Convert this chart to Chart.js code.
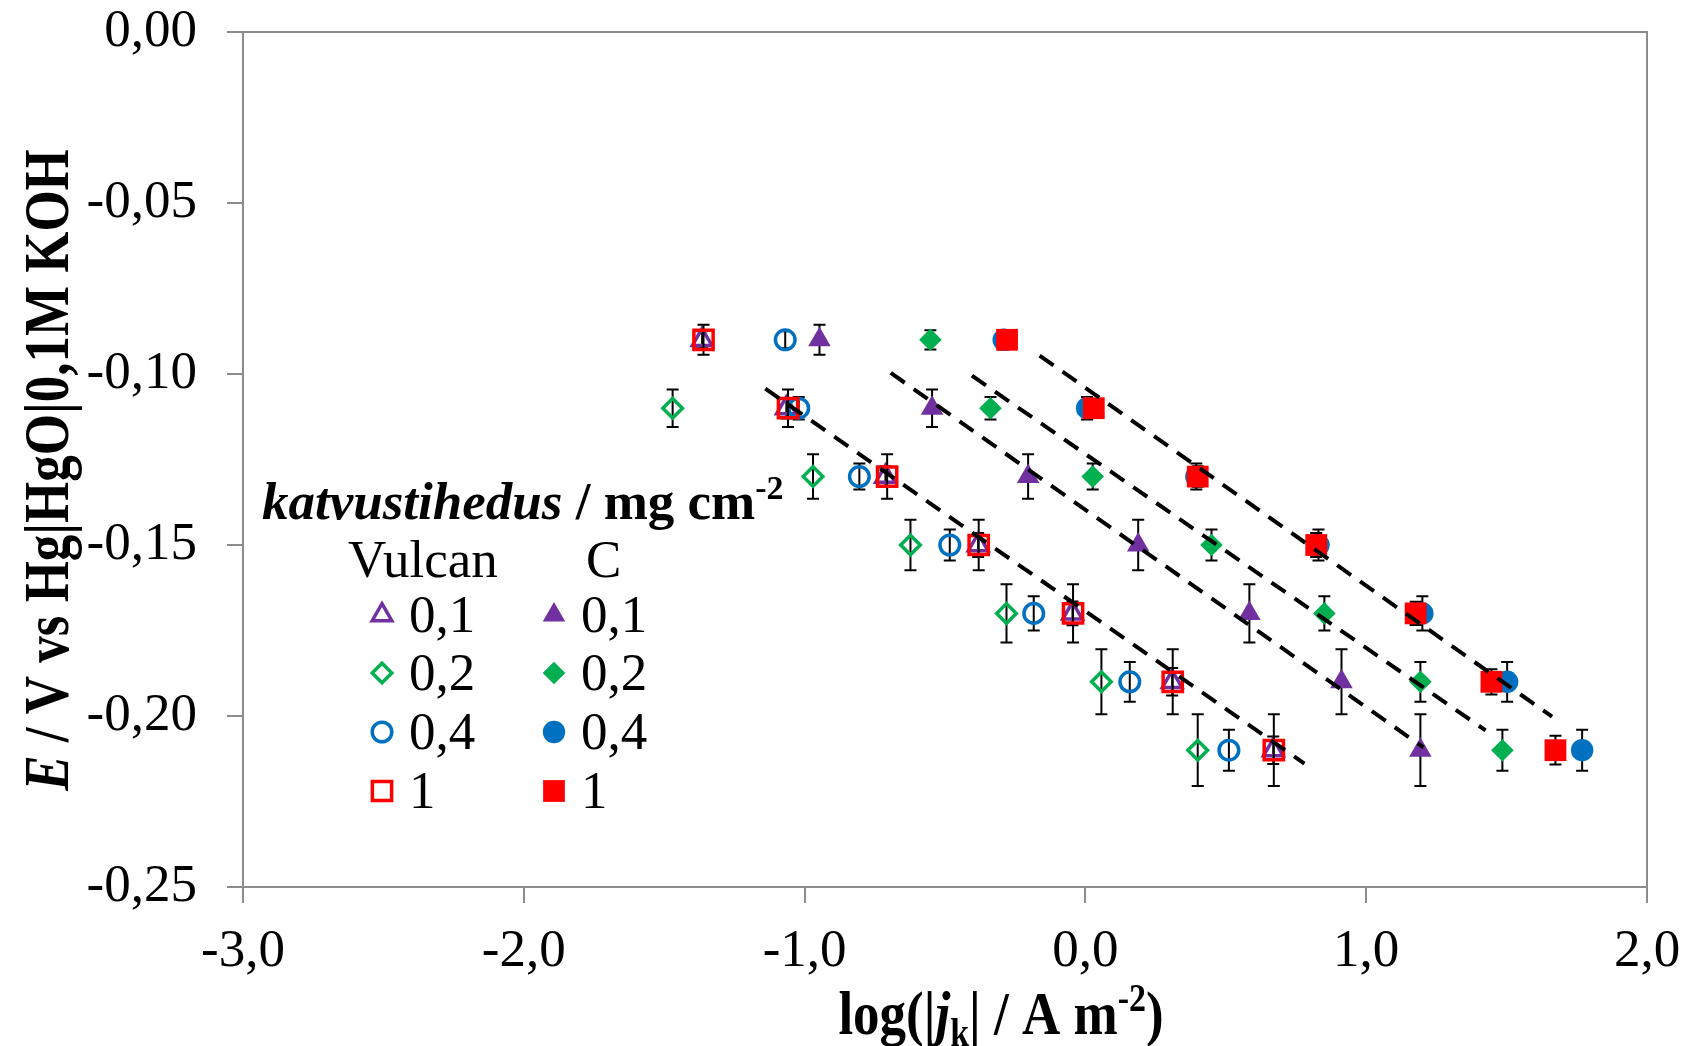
<!DOCTYPE html>
<html>
<head>
<meta charset="utf-8">
<script src="https://cdn.jsdelivr.net/npm/chart.js@4"></script>
<style>
  html, body { margin: 0; padding: 0; background: #fff; }
  #wrap { width: 1693px; height: 1046px; }
</style>
</head>
<body>
<div id="wrap"><canvas id="tafel" width="1693" height="1046"></canvas></div>
<script>
// potential steps, V vs Hg|HgO|0,1M KOH
const potE = [-0.09, -0.11, -0.13, -0.15, -0.17, -0.19, -0.21];
const potE6 = [-0.11, -0.13, -0.15, -0.17, -0.19, -0.21];

// log(|jk| / A m-2) for each catalyst loading
const vulcan01Log = [-1.365, -1.065, -0.712, -0.382, -0.046, 0.309, 0.669];
const vulcan02Log = [-1.47, -0.97, -0.623, -0.281, 0.057, 0.40];
const vulcan04Log = [-1.069, -1.021, -0.805, -0.483, -0.184, 0.158, 0.511];
const vulcan1Log = [-1.36, -1.059, -0.706, -0.380, -0.044, 0.311, 0.671];
const c01Log = [-0.947, -0.546, -0.204, 0.188, 0.584, 0.912, 1.193];
const c02Log = [-0.552, -0.338, 0.026, 0.449, 0.851, 1.193, 1.485];
const c04Log = [-0.291, 0.006, 0.395, 0.83, 1.20, 1.502, 1.769];
const c1Log = [-0.279, 0.030, 0.400, 0.822, 1.176, 1.446, 1.674];

// error bar half-widths, V
const vulcan01Err = [0.0025, 0.003, 0.003, 0.0035, 0.0035, 0.004, 0.004];
const vulcan02Err = [0.0055, 0.0065, 0.0074, 0.0085, 0.0095, 0.0105];
const vulcan04Err = [0.0025, 0.0033, 0.0038, 0.0045, 0.005, 0.0058, 0.006];
const vulcan1Err = [0.0044, 0.0055, 0.0065, 0.0074, 0.0085, 0.0095, 0.0105];
const c01Err = [0.0044, 0.0055, 0.0065, 0.0074, 0.0085, 0.0095, 0.0105];
const c02Err = [0.0028, 0.0033, 0.0038, 0.0045, 0.005, 0.0058, 0.006];
const c04Err = [0.0028, 0.0033, 0.0038, 0.0045, 0.005, 0.0058, 0.006];
const c1Err = [0.002, 0.0025, 0.003, 0.0035, 0.0034, 0.0037, 0.0042];

// Tafel fit lines (end points)
const fitVulcanX = [-1.14, 0.78], fitVulcanE = [-0.1043, -0.2139];
const fitC01X = [-0.693, 1.204], fitC01E = [-0.0997, -0.2092];
const fitC02X = [-0.404, 1.425], fitC02E = [-0.1005, -0.2042];
const fitC1X = [-0.163, 1.662], fitC1E = [-0.0946, -0.2002];

const PURPLE = "#7030A0", GREEN = "#00B050", BLUE = "#0070C0", RED = "#FF0000";
const AXIS = "#8c8c8c";
const SERIF = "'Liberation Serif', 'Times New Roman', serif";

function pts(xs, ys) {
    return xs.map((v, i) => ({ x: v, y: ys[i] }));
}

const markers = {
    tri: { style: "triangle", open: 11.3, filled: 13 },
    dia: { style: "rectRot", open: 9.8, filled: 11.3 },
    circ: { style: "circle", open: 9.8, filled: 11.2 },
    sq: { style: "rect", open: 13.6, filled: 15.4 }
};
const OPEN_W = 3.5;

function series(label, xs, ys, errs, color, m, filled, order) {
    return {
        label: label,
        data: pts(xs, ys),
        errors: errs,
        order: order,
        pointStyle: m.style,
        pointRadius: filled ? m.filled : m.open,
        pointBorderWidth: filled ? 0 : OPEN_W,
        pointBorderColor: color,
        pointBackgroundColor: filled ? color : "rgba(0,0,0,0)",
        showLine: false
    };
}

function fitLine(xs, ys) {
    return {
        data: pts(xs, ys),
        order: 0,
        showLine: true,
        borderColor: "#000",
        borderWidth: 4,
        borderDash: [17, 11],
        pointRadius: 0,
        fill: false
    };
}

const errorBars = {
    id: "errorBars",
    beforeDatasetDraw(chart, args) {
        const ds = chart.data.datasets[args.index];
        if (!ds.errors) return;
        const ctx = chart.ctx, xs = chart.scales.x, ys = chart.scales.y;
        ctx.save();
        ctx.strokeStyle = "#000";
        ctx.lineWidth = 2;
        ds.data.forEach((p, i) => {
            const px = xs.getPixelForValue(p.x);
            const top = ys.getPixelForValue(p.y + ds.errors[i]);
            const bot = ys.getPixelForValue(p.y - ds.errors[i]);
            ctx.beginPath();
            ctx.moveTo(px, top); ctx.lineTo(px, bot);
            ctx.moveTo(px - 6, top); ctx.lineTo(px + 6, top);
            ctx.moveTo(px - 6, bot); ctx.lineTo(px + 6, bot);
            ctx.stroke();
        });
        ctx.restore();
    }
};

const frame = {
    id: "frame",
    beforeDatasetsDraw(chart) {
        const { ctx, chartArea: a } = chart;
        ctx.save();
        ctx.strokeStyle = AXIS;
        ctx.lineWidth = 2;
        ctx.strokeRect(a.left, a.top, a.right - a.left, a.bottom - a.top);
        ctx.restore();
    }
};

// draw a run of differently styled text pieces
function rich(ctx, parts, x, y, align) {
    let w = 0;
    parts.forEach(p => { ctx.font = p.font; p.w = ctx.measureText(p.t).width; w += p.w; });
    let cx = align === "center" ? x - w / 2 : x;
    parts.forEach(p => {
        ctx.font = p.font;
        ctx.fillText(p.t, cx, y + (p.dy || 0));
        cx += p.w;
    });
}

const texts = {
    id: "texts",
    afterDraw(chart) {
        const ctx = chart.ctx;
        const B = "bold 53px " + SERIF, BI = "italic bold 53px " + SERIF, R = "53px " + SERIF;
        const SMALL = "bold 34px " + SERIF;
        ctx.save();
        ctx.fillStyle = "#000";
        ctx.textBaseline = "alphabetic";
        ctx.textAlign = "left";

        // y axis title
        ctx.save();
        ctx.translate(68, 470);
        ctx.rotate(-Math.PI / 2);
        ctx.scale(1, 1.2);
        rich(ctx, [
            { t: "E", font: BI },
            { t: " / V vs Hg|HgO|0,1M KOH", font: B }
        ], 0, 0, "center");
        ctx.restore();

        // x axis title
        ctx.save();
        ctx.translate(1001, 1034);
        ctx.scale(1, 1.15);
        rich(ctx, [
            { t: "log(|", font: B },
            { t: "j", font: BI },
            { t: "k", font: SMALL, dy: 10 },
            { t: "| / A m", font: B },
            { t: "-2", font: SMALL, dy: -20 },
            { t: ")", font: B }
        ], 0, 0, "center");
        ctx.restore();

        // legend
        rich(ctx, [
            { t: "katvustihedus", font: BI },
            { t: " / mg cm", font: B },
            { t: "-2", font: SMALL, dy: -20 }
        ], 262, 519, "left");
        ctx.font = R;
        ctx.fillText("Vulcan", 348, 577);
        ctx.fillText("C", 586, 577);

        const rows = [
            { lab: "0,1", m: markers.tri, color: PURPLE },
            { lab: "0,2", m: markers.dia, color: GREEN },
            { lab: "0,4", m: markers.circ, color: BLUE },
            { lab: "1", m: markers.sq, color: RED }
        ];
        const baseY = [632, 690, 749, 808];
        rows.forEach((r, i) => {
            const cy = baseY[i] - 17;
            ctx.fillStyle = "#000";
            ctx.font = R;
            ctx.fillText(r.lab, 409, baseY[i]);
            ctx.fillText(r.lab, 581, baseY[i]);
            // open marker
            ctx.strokeStyle = r.color;
            ctx.fillStyle = "rgba(0,0,0,0)";
            ctx.lineWidth = OPEN_W;
            Chart.helpers.drawPoint(ctx, { pointStyle: r.m.style, radius: r.m.open, borderWidth: OPEN_W, rotation: 0 }, 382, cy);
            // filled marker
            ctx.fillStyle = r.color;
            ctx.lineWidth = 0;
            Chart.helpers.drawPoint(ctx, { pointStyle: r.m.style, radius: r.m.filled, borderWidth: 0, rotation: 0 }, 554, cy);
        });
        ctx.restore();
    }
};

const axisFont = { family: SERIF, size: 53 };

new Chart(document.getElementById("tafel"), {
    type: "scatter",
    data: {
        datasets: [
            fitLine(fitVulcanX, fitVulcanE),
            fitLine(fitC01X, fitC01E),
            fitLine(fitC02X, fitC02E),
            fitLine(fitC1X, fitC1E),
            series("C 1", c1Log, potE, c1Err, RED, markers.sq, true, 1),
            series("C 0,4", c04Log, potE, c04Err, BLUE, markers.circ, true, 2),
            series("C 0,2", c02Log, potE, c02Err, GREEN, markers.dia, true, 3),
            series("C 0,1", c01Log, potE, c01Err, PURPLE, markers.tri, true, 4),
            series("Vulcan 1", vulcan1Log, potE, vulcan1Err, RED, markers.sq, false, 5),
            series("Vulcan 0,4", vulcan04Log, potE, vulcan04Err, BLUE, markers.circ, false, 6),
            series("Vulcan 0,2", vulcan02Log, potE6, vulcan02Err, GREEN, markers.dia, false, 7),
            series("Vulcan 0,1", vulcan01Log, potE, vulcan01Err, PURPLE, markers.tri, false, 8)
        ]
    },
    options: {
        responsive: false,
        devicePixelRatio: 1,
        animation: false,
        events: [],
        layout: { padding: { top: 32, right: 46, left: 0, bottom: 0 } },
        plugins: {
            legend: { display: false },
            tooltip: { enabled: false }
        },
        scales: {
            x: {
                type: "linear",
                min: -3,
                max: 2,
                afterFit(s) {
                    s.height = 159;
                    s.paddingLeft = 0;
                    s.paddingRight = 0;
                },
                grid: { drawOnChartArea: false, drawTicks: true, tickLength: 16, color: AXIS, lineWidth: 2 },
                border: { color: AXIS, width: 2 },
                ticks: {
                    stepSize: 1,
                    padding: 17,
                    color: "#000",
                    font: axisFont,
                    callback: v => v.toFixed(1).replace(".", ",")
                }
            },
            y: {
                type: "linear",
                min: -0.25,
                max: 0,
                afterFit(s) {
                    s.width = 243;
                    s.paddingTop = 0;
                    s.paddingBottom = 0;
                },
                grid: { drawOnChartArea: false, drawTicks: true, tickLength: 16, color: AXIS, lineWidth: 2 },
                border: { color: AXIS, width: 2 },
                ticks: {
                    stepSize: 0.05,
                    padding: 30,
                    color: "#000",
                    font: axisFont,
                    callback: v => Math.abs(v) < 1e-9 ? "0,00" : v.toFixed(2).replace(".", ",")
                }
            }
        }
    },
    plugins: [frame, errorBars, texts]
});
</script>
</body>
</html>
